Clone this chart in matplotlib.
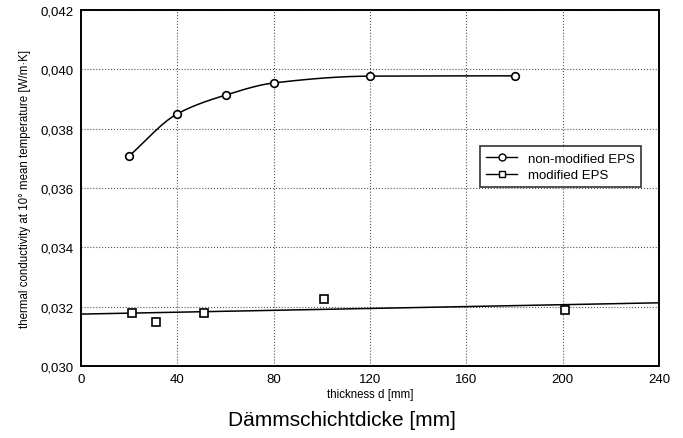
import numpy as np
import matplotlib

matplotlib.use("Agg")
import matplotlib.pyplot as plt
from matplotlib.ticker import FuncFormatter

plt.rcParams["font.family"] = ["Liberation Sans", "DejaVu Sans"]

# non-modified EPS (measured)
thick_nm = [20, 40, 60, 80, 120, 180]
lam_nm = [0.03708, 0.0385, 0.03913, 0.03954, 0.03977, 0.03978]

# modified EPS (measured)
thick_m = [21, 31, 51, 101, 201]
lam_m = [0.03179, 0.03148, 0.03179, 0.03226, 0.03189]

# linear fit drawn through the modified EPS points
fit_x = [0, 240]
fit_y = [0.03175, 0.03213]

x_ticks = [0, 40, 80, 120, 160, 200, 240]
y_ticks = [0.030, 0.032, 0.034, 0.036, 0.038, 0.040, 0.042]


def pchip(x, y, n=200):
    """Monotone cubic curve through the points, only used for drawing."""
    x = np.asarray(x, float)
    y = np.asarray(y, float)
    h = np.diff(x)
    d = np.diff(y) / h
    m = np.zeros_like(y)
    for i in range(1, len(x) - 1):
        if d[i - 1] * d[i] > 0:
            w1 = 2 * h[i] + h[i - 1]
            w2 = h[i] + 2 * h[i - 1]
            m[i] = (w1 + w2) / (w1 / d[i - 1] + w2 / d[i])
    m[0] = d[0]
    xs = np.linspace(x[0], x[-1], n)
    k = np.clip(np.searchsorted(x, xs) - 1, 0, len(h) - 1)
    t = (xs - x[k]) / h[k]
    h00 = 2 * t**3 - 3 * t**2 + 1
    h10 = t**3 - 2 * t**2 + t
    h01 = -2 * t**3 + 3 * t**2
    h11 = t**3 - t**2
    ys = h00 * y[k] + h10 * h[k] * m[k] + h01 * y[k + 1] + h11 * h[k] * m[k + 1]
    return xs, ys


fig = plt.figure(figsize=(6.83, 4.39), dpi=100)
ax = fig.add_axes([0.1186, 0.164, 0.8463, 0.811])

cx, cy = pchip(thick_nm, lam_nm)
ax.plot(cx, cy, color="black", lw=1.1, zorder=2)
ax.plot(thick_nm, lam_nm, ls="none", marker="o", ms=5.5, mfc="white",
        mec="black", mew=1.2, zorder=3)
ax.plot(fit_x, fit_y, color="black", lw=1.1, zorder=2)
ax.plot(thick_m, lam_m, ls="none", marker="s", ms=5.5, mfc="white",
        mec="black", mew=1.2, zorder=3)

# legend handles: line with marker
h1, = ax.plot([], [], color="black", lw=1.0, marker="o", ms=5, mfc="white", mec="black")
h2, = ax.plot([], [], color="black", lw=1.0, marker="s", ms=5, mfc="white", mec="black")
leg = ax.legend([h1, h2], ["non-modified EPS", "modified EPS"],
                loc="upper left", bbox_to_anchor=(0.690, 0.617), fontsize=9.5,
                frameon=True, fancybox=False, edgecolor="black",
                handlelength=2.4, borderpad=0.45, labelspacing=0.35,
                borderaxespad=0)
leg.get_frame().set_linewidth(1.2)

ax.set_xlim(0, 240)
ax.set_ylim(0.030, 0.042)
ax.set_xticks(x_ticks)
ax.set_yticks(y_ticks)
ax.yaxis.set_major_formatter(FuncFormatter(lambda v, p: f"{v:.3f}".replace(".", ",")))
ax.tick_params(length=0, labelsize=9.5, pad=5)
ax.grid(True, ls=":", color="#555555", lw=0.8)
for s in ax.spines.values():
    s.set_linewidth(1.4)

ax.set_ylabel("thermal conductivity at 10° mean temperature [W/m·K]", fontsize=8.3, labelpad=7)
ax.set_xlabel("thickness d [mm]", fontsize=8.3, labelpad=2)
fig.text(0.5, 0.043, "Dämmschichtdicke [mm]", ha="center", va="center", fontsize=15)

fig.savefig("out.png", dpi=100)
